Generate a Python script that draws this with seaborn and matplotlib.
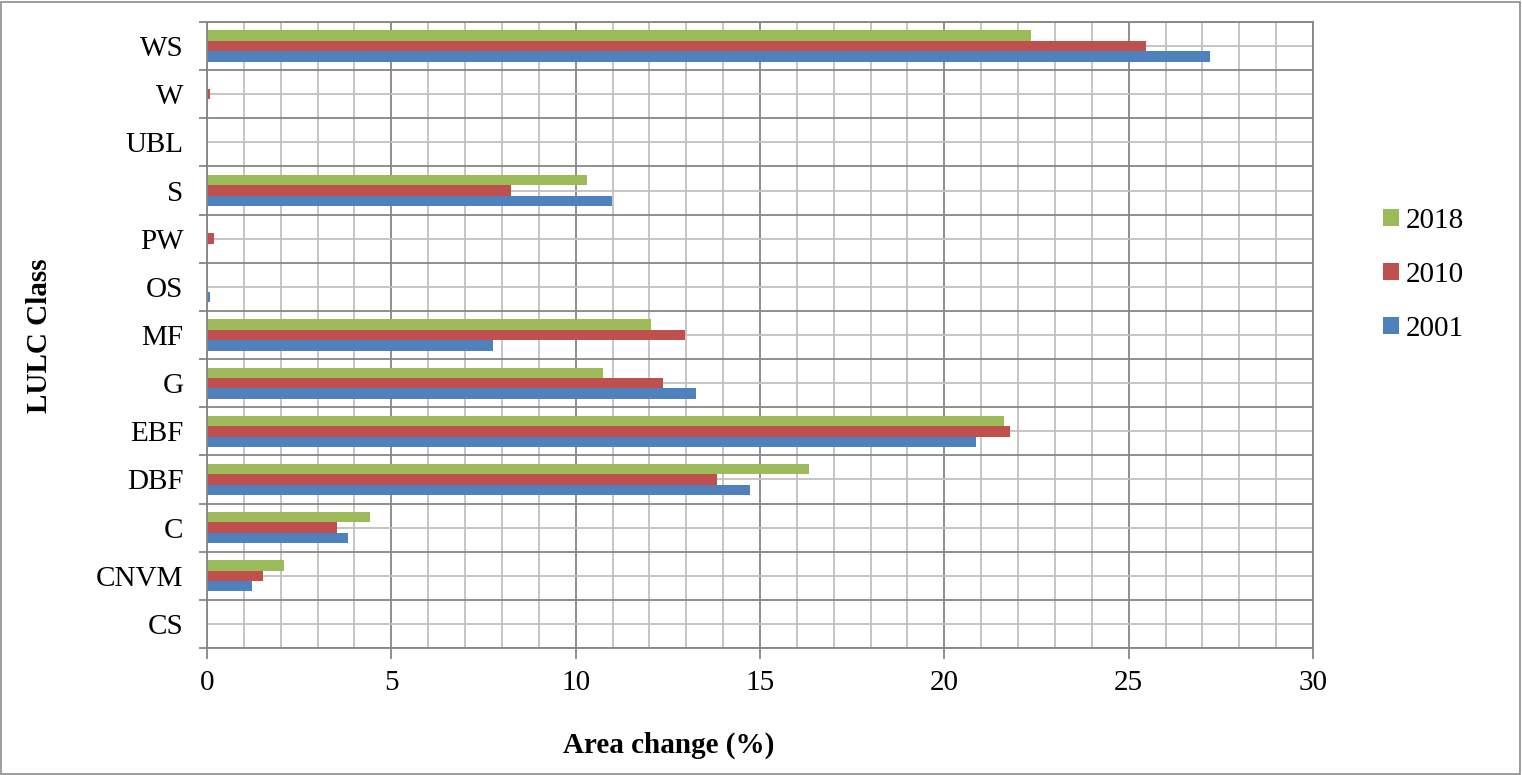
import numpy as np
import pandas as pd
import seaborn as sns
import matplotlib.pyplot as plt
from matplotlib.patches import Rectangle

# classes listed top to bottom, as in the chart
classes = ["WS", "W", "UBL", "S", "PW", "OS", "MF", "G", "EBF", "DBF", "C", "CNVM", "CS"]
years = ["2018", "2010", "2001"]

area_2001 = [27.2, 0.0, 0.0, 10.98, 0.02, 0.08, 7.75, 13.26, 20.86, 14.73, 3.82, 1.21, 0.0]
area_2010 = [25.47, 0.08, 0.0, 8.25, 0.18, 0.0, 12.96, 12.36, 21.77, 13.83, 3.53, 1.52, 0.0]
area_2018 = [22.36, 0.0, 0.0, 10.31, 0.01, 0.0, 12.03, 10.75, 21.62, 16.34, 4.41, 2.08, 0.0]

colors = {"2018": "#9BBB59", "2010": "#C0504D", "2001": "#4F81BD"}

df = pd.DataFrame({
    "cls": classes * 3,
    "year": ["2001"] * 13 + ["2010"] * 13 + ["2018"] * 13,
    "area": area_2001 + area_2010 + area_2018,
})

plt.rcParams["font.family"] = ["Liberation Serif", "DejaVu Serif"]

fig = plt.figure(figsize=(15.22, 7.75), dpi=100)
ax = fig.add_axes([207 / 1522, 1 - 648 / 775, (1313 - 207) / 1522, (648 - 22) / 775])

sns.barplot(data=df, y="cls", x="area", hue="year", order=classes, hue_order=years,
            palette=colors, saturation=1, orient="h", width=0.65, errorbar=None,
            linewidth=0, ax=ax)

grid_dark = "#868686"
grid_light = "#C0C0C0"

ax.set_xlim(0, 30)
ax.set_ylim(len(classes) - 0.5, -0.5)
ax.set_xticks(np.arange(0, 31, 5))
ax.set_xticks(np.arange(0, 31, 1), minor=True)
ax.set_yticks(np.arange(len(classes)))
ax.set_yticklabels(classes)
ax.set_yticks(np.arange(-0.5, len(classes), 1), minor=True)

ax.set_axisbelow(True)
ax.grid(axis="x", which="major", color=grid_dark, lw=1.3)
ax.grid(axis="x", which="minor", color=grid_light, lw=1.3)
ax.grid(axis="y", which="minor", color=grid_dark, lw=1.3)
ax.grid(axis="y", which="major", color=grid_light, lw=1.3)

ax.tick_params(axis="x", which="major", length=8, width=1.3, color=grid_dark,
               labelsize=21, pad=8)
ax.tick_params(axis="x", which="minor", length=0)
ax.tick_params(axis="y", which="major", length=0, labelsize=21, pad=17)
ax.tick_params(axis="y", which="minor", length=6, width=1.3, color=grid_dark)

for s in ax.spines.values():
    s.set_color(grid_dark)
    s.set_linewidth(1.3)

ax.set_xlabel("")
ax.set_ylabel("")
fig.text(669 / 1522, 1 - 745 / 775, "Area change (%)", ha="center", va="center",
         fontsize=21, fontweight="bold")
fig.text(40 / 1522, 1 - 336 / 775, "LULC Class", ha="center", va="center",
         rotation=90, fontsize=21, fontweight="bold")

handles, labels = ax.get_legend_handles_labels()
ax.get_legend().remove()
fig.legend(handles, labels, loc="center left", bbox_to_anchor=(1371 / 1522, 1 - 275 / 775),
           frameon=False, fontsize=21, handlelength=0.55, handleheight=0.55,
           handletextpad=0.25, labelspacing=0.96, borderaxespad=0)

fig.patches.append(Rectangle((0.0005, 0.001), 0.998, 0.997, transform=fig.transFigure,
                             fill=False, edgecolor="#8C8C8C", lw=1.2))

fig.savefig("out.png", dpi=100)
